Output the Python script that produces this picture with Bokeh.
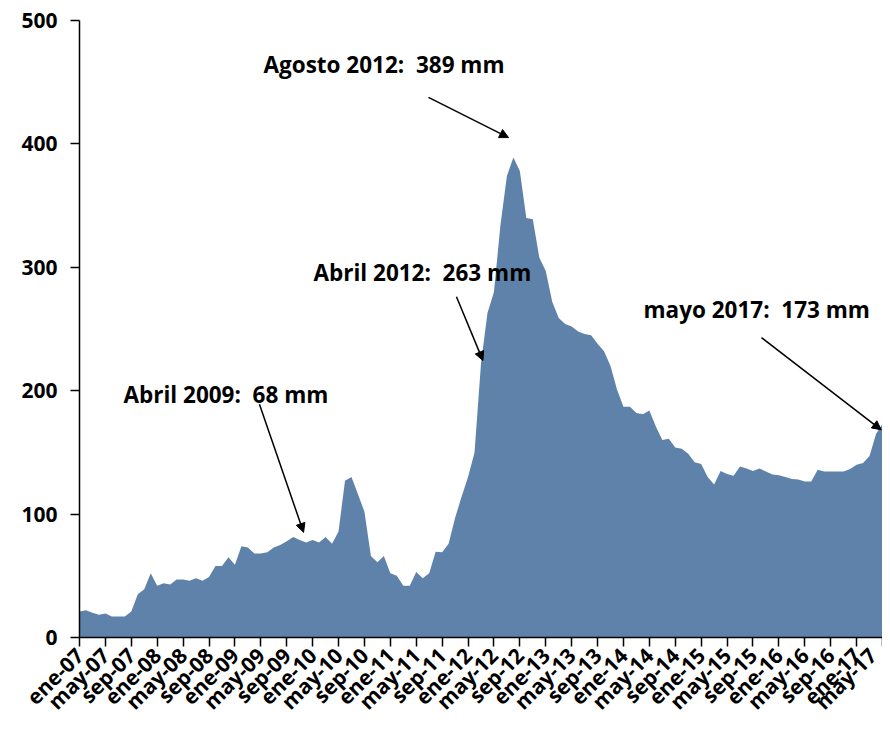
import math
from bokeh.plotting import figure
from bokeh.models import FixedTicker, Range1d, Arrow, NormalHead, Label, ColumnDataSource
from bokeh.embed import file_html
from bokeh.resources import INLINE

# Monthly precipitation (mm), ene-07 .. may-17 (125 months)
precip = [
    21, 22, 20, 18.5, 19.5, 17, 17, 17, 21, 35, 39, 52,            # 2007
    42, 44, 43, 47, 47, 46, 48, 46, 49, 58, 58, 65,                # 2008
    59, 74, 73, 68, 68, 69, 73, 75, 78, 81.5, 79, 77,              # 2009
    79, 77, 81.5, 76, 86, 127, 130, 116, 102, 66, 61, 66,          # 2010
    52, 50, 42, 42, 53, 48, 52, 69.5, 69, 76, 97, 114,             # 2011
    130, 150, 222, 263, 280, 334, 374, 389, 378, 340, 339, 308,    # 2012
    297, 272, 259, 254, 252, 248, 246, 245, 238, 232, 220, 201,    # 2013
    187, 187, 182, 181, 184, 171, 160, 161, 154, 153, 149, 142,    # 2014
    140.5, 130, 124, 135, 132.5, 131, 138.5, 137, 135, 137, 134.5, 132,  # 2015
    131.5, 130, 128.5, 128, 126.5, 126.5, 136, 134.5, 134.5, 134.5, 134.5, 136.5,  # 2016
    140, 141.5, 147, 165, 173,                                     # 2017
]

tick_labels = [
    "ene-07", "may-07", "sep-07", "ene-08", "may-08", "sep-08",
    "ene-09", "may-09", "sep-09", "ene-10", "may-10", "sep-10",
    "ene-11", "may-11", "sep-11", "ene-12", "may-12", "sep-12",
    "ene-13", "may-13", "sep-13", "ene-14", "may-14", "sep-14",
    "ene-15", "may-15", "sep-15", "ene-16", "may-16", "sep-16",
    "ene-17", "may-17",
]
tick_step = 4  # one label every 4 months

y_ticks = [0, 100, 200, 300, 400, 500]

SP = "\u00a0 "  # wide gap after the colon, as in the original
# annotation texts with (text x, text y) and arrow (x0, y0, x1, y1), in data units
notes = [
    ("Agosto 2012:" + SP + "389 mm", 28.41, 464.4, 53.89, 437.7, 66.26, 405.1),
    ("Abril 2012:" + SP + "263 mm", 36.13, 295.7, 58.21, 276.1, 62.3, 224.4),
    ("mayo 2017:" + SP + "173 mm", 87.09, 266.2, 105.31, 243.0, 123.8, 168.3),
    ("Abril 2009:" + SP + "68 mm", 6.79, 196.6, 27.79, 189.1, 34.6, 85.2),
]

months = list(range(len(precip)))
src = ColumnDataSource(dict(x=months, y=precip))
tick_pos = [i * tick_step for i in range(len(tick_labels))]

p = figure(width=882, height=728,
           x_range=Range1d(0, len(precip) - 1), y_range=Range1d(0, 500),
           output_backend="svg", toolbar_location=None,
           min_border_left=79, min_border_right=0,
           min_border_top=20, min_border_bottom=90)
p.outline_line_color = None
p.grid.visible = False
p.background_fill_color = "white"
p.border_fill_color = "white"

p.varea(x="x", y1=0, y2="y", source=src, fill_color="#5F82AB")

FONT = "Open Sans"

p.xaxis.ticker = FixedTicker(ticks=tick_pos)
p.xaxis.major_label_overrides = {t: lab for t, lab in zip(tick_pos, tick_labels)}
p.xaxis.major_label_orientation = math.pi / 4
p.xaxis.major_label_text_font = FONT
p.xaxis.major_label_text_font_style = "bold"
p.xaxis.major_label_text_font_size = "21px"
p.xaxis.major_label_text_color = "black"
p.xaxis.major_label_standoff = 5

p.yaxis.ticker = FixedTicker(ticks=y_ticks)
p.yaxis.major_label_text_font = FONT
p.yaxis.major_label_text_font_style = "bold"
p.yaxis.major_label_text_font_size = "21px"
p.yaxis.major_label_text_color = "black"
p.yaxis.major_label_standoff = 13

for ax in (p.xaxis, p.yaxis):
    ax.axis_line_color = "black"
    ax.axis_line_width = 1.5
    ax.major_tick_line_color = "black"
    ax.major_tick_line_width = 1.5
    ax.major_tick_out = 9
    ax.major_tick_in = 0
    ax.minor_tick_out = 0
    ax.minor_tick_in = 0

for text, tx, ty, x0, y0, x1, y1 in notes:
    p.add_layout(Label(x=tx, y=ty, text=text, text_font=FONT, text_font_style="bold",
                       text_font_size="22.5px", text_color="black",
                       text_baseline="middle", text_align="left"))
    p.add_layout(Arrow(x_start=x0, y_start=y0, x_end=x1, y_end=y1,
                       line_color="black", line_width=1.5,
                       end=NormalHead(size=9, fill_color="black", line_color="black")))

open("out.html", "w").write(file_html(p, INLINE))
